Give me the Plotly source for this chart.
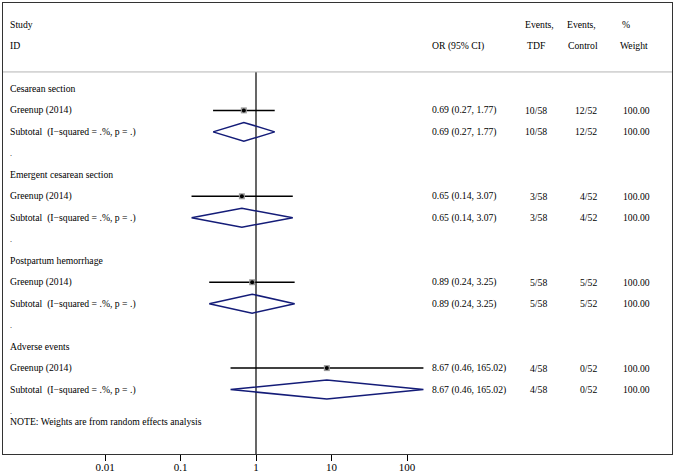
import plotly.graph_objects as go

# forest plot values
groups = ["Cesarean section", "Emergent cesarean section", "Postpartum hemorrhage", "Adverse events"]
studies = ["Greenup (2014)", "Greenup (2014)", "Greenup (2014)", "Greenup (2014)"]
odds = [0.69, 0.65, 0.89, 8.67]
ci_low = [0.27, 0.14, 0.24, 0.46]
ci_high = [1.77, 3.07, 3.25, 165.02]
events_tdf = ["10/58", "3/58", "5/58", "4/58"]
events_ctrl = ["12/52", "4/52", "5/52", "0/52"]
weights = ["100.00", "100.00", "100.00", "100.00"]
tick_vals = [0.01, 0.1, 1, 10, 100]
tick_text = ["0.01", "0.1", "1", "10", "100"]

W, H = 675, 476
ML, MR, MT, MB = 3, 3, 3, 22
FONT = "Liberation Serif"
FS = 9.7
NAVY = "#141c78"

# pixel position of x=1 and pixels per decade
x_one, decade = 256, 75.5
x_range = [(ML - x_one) / decade, (W - MR - x_one) / decade]


def px(p):
    return (p - ML) / (W - ML - MR)


fig = go.Figure()

ann = []


def text(x, y, s, anchor="left", size=FS):
    ann.append(dict(x=px(x), y=y, xref="paper", yref="y", text=s, showarrow=False,
                    xanchor=anchor, yanchor="middle", font=dict(family=FONT, size=size, color="black")))


# header
text(8, -3, "Study")
text(8, -2, "ID")
text(430, -2, "OR (95% CI)")
text(523, -3, "Events,")
text(525, -2, "TDF")
text(565, -3, "Events,")
text(566, -2, "Control")
text(620, -3, "%")
text(618, -2, "Weight")

# null line
fig.add_trace(go.Scatter(x=[1, 1], y=[-0.79, 17], mode="lines",
                         line=dict(color="black", width=1.2), hoverinfo="skip"))

for g in range(len(groups)):
    r = 4 * g
    text(8, r, groups[g])
    text(8, r + 1, studies[g])
    text(8, r + 2, "Subtotal  (I\u2212squared = .%, p = .)")
    text(8, r + 3, ".", size=8)
    label = f"{odds[g]:.2f} ({ci_low[g]:.2f}, {ci_high[g]:.2f})"
    for rr in (r + 1, r + 2):
        text(430, rr, label)
        text(549, rr, events_tdf[g], anchor="right")
        text(599, rr, events_ctrl[g], anchor="right")
        text(652, rr, weights[g], anchor="right")

    # study CI and point
    fig.add_trace(go.Scatter(x=[ci_low[g], ci_high[g]], y=[r + 1, r + 1], mode="lines",
                             line=dict(color="black", width=1.5), hoverinfo="skip"))
    fig.add_trace(go.Scatter(x=[odds[g]], y=[r + 1], mode="markers",
                             marker=dict(symbol="square", size=6, color="#9a9a9a"), hoverinfo="skip"))
    fig.add_trace(go.Scatter(x=[odds[g]], y=[r + 1], mode="markers",
                             marker=dict(symbol="circle", size=4, color="black"), hoverinfo="skip"))
    # subtotal diamond
    h = 0.44
    fig.add_trace(go.Scatter(x=[ci_low[g], odds[g], ci_high[g], odds[g], ci_low[g]],
                             y=[r + 2, r + 2 - h, r + 2, r + 2 + h, r + 2], mode="lines",
                             line=dict(color=NAVY, width=1.5), hoverinfo="skip"))

text(8, 15.5, "NOTE: Weights are from random effects analysis")

fig.update_layout(
    width=W, height=H,
    margin=dict(l=ML, r=MR, t=MT, b=MB),
    plot_bgcolor="white", paper_bgcolor="white",
    showlegend=False,
    annotations=ann,
    shapes=[dict(type="line", xref="paper", yref="y", x0=0, x1=1, y0=-0.79, y1=-0.79,
                 line=dict(color="#b4b4b4", width=1))],
    xaxis=dict(type="log", range=x_range, tickvals=tick_vals, ticktext=tick_text,
               ticks="outside", ticklen=6, tickcolor="black", tickwidth=1,
               ticklabelstandoff=-3,
               showgrid=False, zeroline=False, showline=True, mirror=True,
               linecolor="#333333", linewidth=1, automargin=False,
               tickfont=dict(family=FONT, size=11, color="black")),
    yaxis=dict(range=[17, -4], showticklabels=False, ticks="", showgrid=False, zeroline=False,
               showline=True, mirror=True, linecolor="#333333", linewidth=1),
)

fig.write_html("out.html", config={"displayModeBar": False},
               post_script="document.body.style.margin='0px';")
